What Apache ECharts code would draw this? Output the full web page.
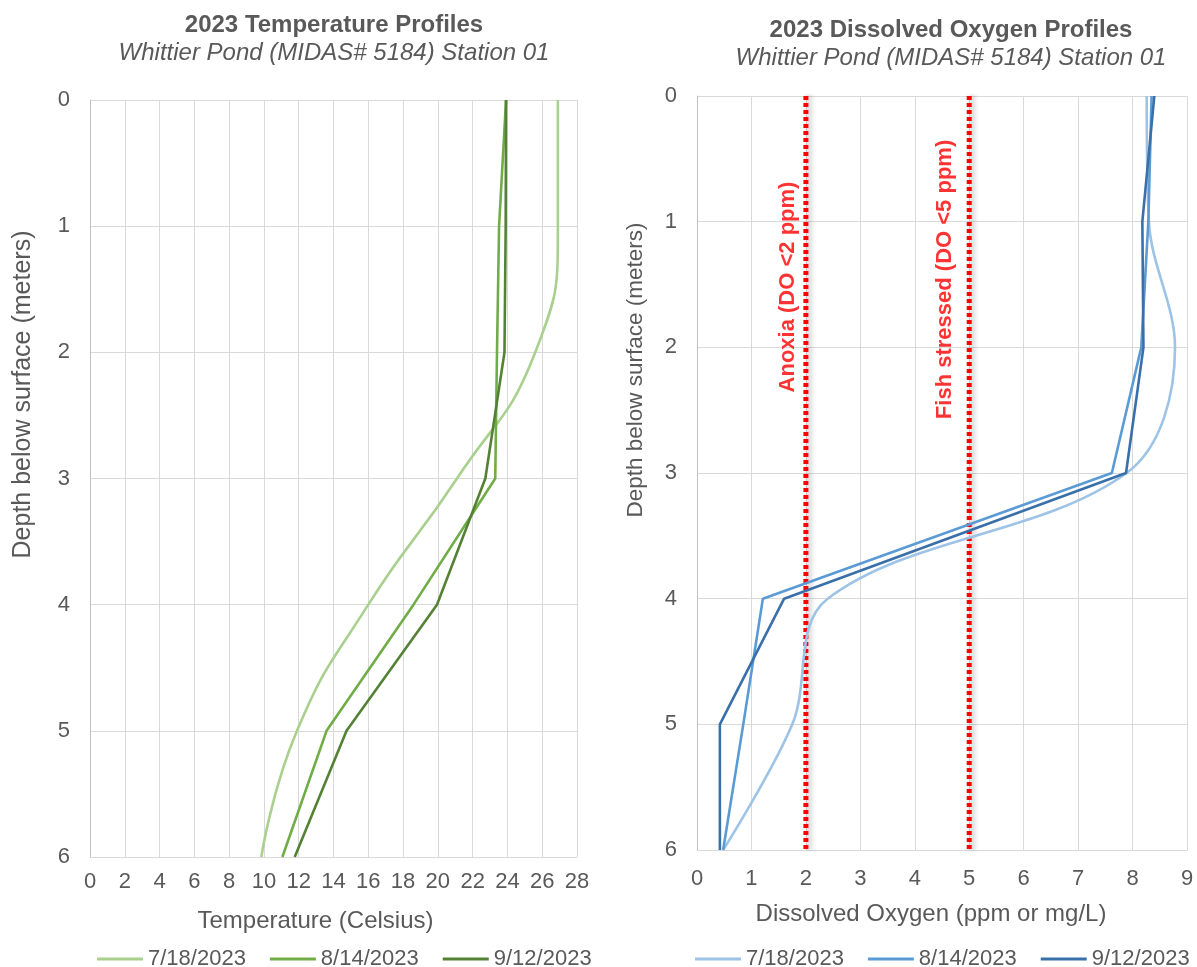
<!DOCTYPE html>
<html><head><meta charset="utf-8">
<script src="https://cdn.jsdelivr.net/npm/echarts@6/dist/echarts.min.js"></script>
<style>html,body{margin:0;padding:0;background:#fff}#c{width:1197px;height:967px}</style>
</head><body><div id="c"></div>
<script>
// ---- data ----
const depths = [0, 1, 2, 3, 4, 5, 6];
const dates = ['7/18/2023', '8/14/2023', '9/12/2023'];
const temp0718 = [26.9, 26.9, 25.6, 21.1, 16.0, 11.9, 9.85];
const temp0814 = [23.92, 23.52, 23.4, 23.3, 18.6, 13.6, 11.06];
const temp0912 = [23.92, 23.9, 23.83, 22.73, 19.95, 14.75, 11.77];
const do0718 = [8.26, 8.3, 8.78, 7.89, 2.4, 1.75, 0.48];
const do0814 = [8.35, 8.29, 8.16, 7.62, 1.21, 0.85, 0.48];
const do0912 = [8.40, 8.18, 8.2, 7.88, 1.6, 0.42, 0.42];
const tempTicks = [0, 28, 2];   // min, max, step
const doTicks = [0, 9, 1];
const depthTicks = [0, 6, 1];
const doThresholds = [2, 5];
const thresholdLabels = ['Anoxia (DO <2 ppm)', 'Fish stressed (DO <5 ppm)'];
const thresholdLabelAt = [[1.67, 1.52], [4.56, 1.46]];

// ---- chart ----
const FONT = 'Liberation Sans, Arial, sans-serif';
const GREY = '#595959';
const GRID = '#d9d9d9';
const tempColors = ['#a9d08e', '#70ad47', '#548235'];
const doColors = ['#9dc3e6', '#5b9bd5', '#3a70aa'];
const pairs = vals => vals.map((v, i) => [v, depths[i]]);

function xAx(grid, t, name, margin, nameSize, shiftLeft) {
  return {
    gridIndex: grid, type: 'value', min: t[0], max: t[1], interval: t[2],
    axisLine: {onZero: false, lineStyle: {color: GRID}}, axisTick: {show: false},
    axisLabel: {fontSize: 22, color: GREY, margin: margin, fontFamily: FONT},
    splitLine: {show: true, lineStyle: {color: GRID, width: 1}},
    name: name, nameLocation: 'middle', nameGap: 52,
    nameTextStyle: {fontSize: nameSize, color: GREY, fontFamily: FONT, padding: [0, shiftLeft * 2, 0, 0]}
  };
}
function yAx(grid, gap, shift, nameSize) {
  return {
    gridIndex: grid, type: 'value', min: depthTicks[0], max: depthTicks[1], interval: depthTicks[2], inverse: true,
    axisLine: {show: true, onZero: false, lineStyle: {color: '#bfbfbf'}}, axisTick: {show: false},
    axisLabel: {fontSize: 22, color: GREY, margin: 20, fontFamily: FONT},
    splitLine: {show: true, lineStyle: {color: GRID, width: 1}},
    name: 'Depth below surface (meters)', nameLocation: 'middle', nameGap: gap,
    nameTextStyle: {fontSize: nameSize, color: GREY, fontFamily: FONT, padding: [0, 0, 0, shift]}
  };
}
function lineSeries(name, vals, color, smooth, ax) {
  return {
    name: name, type: 'line', xAxisIndex: ax, yAxisIndex: ax, data: pairs(vals),
    symbol: 'none', smooth: smooth,
    lineStyle: {color: color, width: 2.6}, itemStyle: {color: color}
  };
}

const series = [];
[temp0718, temp0814, temp0912].forEach((v, i) => series.push(lineSeries(dates[i], v, tempColors[i], i === 0 ? 0.5 : false, 0)));
doThresholds.forEach((t, i) => {
  series.push({
    type: 'line', xAxisIndex: 1, yAxisIndex: 1, silent: true, symbol: 'none',
    data: [[t, depthTicks[0]], [t, depthTicks[1]]],
    lineStyle: {color: '#ff0000', width: 5, type: [4, 3], cap: 'butt',
      shadowColor: 'rgba(0,0,0,0.3)', shadowBlur: 5, shadowOffsetX: 3}
  });
  series.push({
    type: 'scatter', xAxisIndex: 1, yAxisIndex: 1, silent: true, symbolSize: 0,
    data: [[thresholdLabelAt[i][0], thresholdLabelAt[i][1], thresholdLabels[i]]],
    label: {show: true, position: 'inside', rotate: 90, formatter: p => p.data[2],
      fontSize: 22, fontWeight: 'bold', color: '#ff0000', fontFamily: FONT}
  });
});
[do0718, do0814, do0912].forEach((v, i) => series.push(lineSeries('DO ' + dates[i], v, doColors[i], i === 0 ? 0.35 : false, 1)));

const legendBase = {
  orient: 'horizontal', top: 943, icon: 'rect', itemWidth: 46, itemHeight: 3, itemGap: 24,
  textStyle: {fontSize: 22, color: GREY, fontFamily: FONT}, selectedMode: false
};

const chart = echarts.init(document.getElementById('c'), null, {renderer: 'canvas'});
chart.setOption({
  animation: false,
  backgroundColor: '#fff',
  textStyle: {fontFamily: FONT},
  title: [
    {text: '2023 Temperature Profiles', left: 329, top: 8, textAlign: 'center',
      textStyle: {fontSize: 24, fontWeight: 'bold', color: GREY, fontFamily: FONT}},
    {text: 'Whittier Pond (MIDAS# 5184) Station 01', left: 329, top: 36, textAlign: 'center',
      textStyle: {fontSize: 24, fontWeight: 'normal', fontStyle: 'italic', color: GREY, fontFamily: FONT}},
    {text: '2023 Dissolved Oxygen Profiles', left: 946, top: 13, textAlign: 'center',
      textStyle: {fontSize: 24, fontWeight: 'bold', color: GREY, fontFamily: FONT}},
    {text: 'Whittier Pond (MIDAS# 5184) Station 01', left: 946, top: 41, textAlign: 'center',
      textStyle: {fontSize: 24, fontWeight: 'normal', fontStyle: 'italic', color: GREY, fontFamily: FONT}}
  ],
  grid: [
    {left: 90, right: 620, top: 100, bottom: 110},
    {left: 697, right: 10, top: 96, bottom: 117}
  ],
  xAxis: [xAx(0, tempTicks, 'Temperature (Celsius)', 14, 24, 18), xAx(1, doTicks, 'Dissolved Oxygen (ppm or mg/L)', 18, 24, 11)],
  yAxis: [yAx(0, 54, 168, 25), yAx(1, 50, 206, 22.5)],
  legend: [
    Object.assign({}, legendBase, {left: 92, data: dates}),
    Object.assign({}, legendBase, {left: 690, data: dates.map(d => 'DO ' + d), formatter: n => n.replace('DO ', '')})
  ],
  series: series
});
</script></body></html>
